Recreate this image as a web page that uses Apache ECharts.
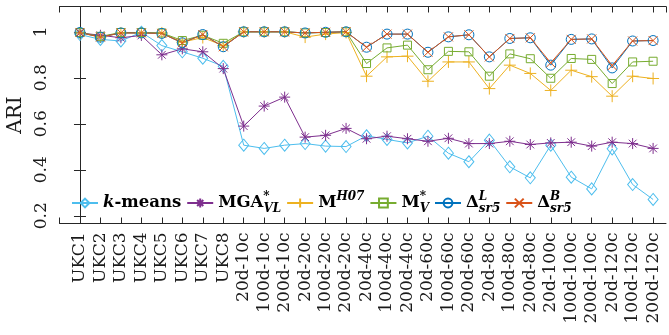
<!DOCTYPE html>
<html>
<head>
<meta charset="utf-8">
<script src="https://cdn.jsdelivr.net/npm/echarts@6/dist/echarts.min.js"></script>
<style>
html, body { margin: 0; padding: 0; background: #fff; }
#chart { width: 669px; height: 335px; }
</style>
</head>
<body>
<div id="chart"></div>
<script>
var myChart = echarts.init(document.getElementById('chart'));

var categories = ['UKC1', 'UKC2', 'UKC3', 'UKC4', 'UKC5', 'UKC6', 'UKC7', 'UKC8',
    '20d-10c', '100d-10c', '200d-10c', '20d-20c', '100d-20c', '200d-20c',
    '20d-40c', '100d-40c', '200d-40c', '20d-60c', '100d-60c', '200d-60c',
    '20d-80c', '100d-80c', '200d-80c', '20d-100c', '100d-100c', '200d-100c',
    '20d-120c', '100d-120c', '200d-120c'];

var kmeans = [0.988, 0.967, 0.96, 0.998, 0.94, 0.913, 0.885, 0.85, 0.507, 0.493, 0.507, 0.514, 0.503, 0.501,
    0.548, 0.532, 0.517, 0.546, 0.472, 0.435, 0.529, 0.413, 0.365, 0.507, 0.368, 0.317, 0.491, 0.336, 0.271];
var mga = [0.995, 0.985, 0.974, 0.984, 0.90, 0.926, 0.913, 0.84, 0.59, 0.677, 0.716, 0.542, 0.55, 0.58,
    0.535, 0.546, 0.535, 0.524, 0.537, 0.514, 0.514, 0.524, 0.51, 0.517, 0.52, 0.503, 0.52, 0.514, 0.493];
var mh07 = [0.995, 0.977, 0.995, 0.995, 0.995, 0.955, 0.975, 0.94, 1.0, 1.0, 1.0, 0.977, 0.99, 0.997,
    0.807, 0.891, 0.894, 0.785, 0.869, 0.869, 0.753, 0.855, 0.819, 0.745, 0.833, 0.805, 0.72, 0.807, 0.797];
var mv = [0.997, 0.98, 0.997, 0.997, 0.995, 0.962, 0.985, 0.95, 1.0, 1.0, 1.0, 0.995, 0.997, 1.0,
    0.862, 0.93, 0.942, 0.835, 0.915, 0.913, 0.807, 0.904, 0.883, 0.798, 0.884, 0.88, 0.775, 0.869, 0.872];
var deltaL = [0.997, 0.977, 0.995, 0.995, 0.993, 0.952, 0.988, 0.935, 1.0, 1.0, 1.0, 0.995, 0.998, 1.0,
    0.933, 0.99, 0.99, 0.911, 0.978, 0.987, 0.891, 0.971, 0.974, 0.855, 0.967, 0.969, 0.843, 0.96, 0.962];
var deltaB = [0.997, 0.977, 0.995, 0.995, 0.993, 0.952, 0.988, 0.935, 1.0, 1.0, 1.0, 0.995, 0.998, 1.0,
    0.933, 0.99, 0.99, 0.911, 0.978, 0.987, 0.891, 0.971, 0.974, 0.865, 0.967, 0.969, 0.853, 0.96, 0.962];

var yTicks = [0.2, 0.4, 0.6, 0.8, 1];

var serif = 'DejaVu Serif';
var plusPath = 'path://M5,0L5,10M0,5L10,5';
var crossPath = 'path://M0,0L10,10M0,10L10,0';
var starPath = 'path://M5,0L5,10M0,5L10,5M1.5,1.5L8.5,8.5M1.5,8.5L8.5,1.5';

function pts(arr) {
    return arr.map(function (v, i) { return [i, v]; });
}

function mkSeries(name, data, color, symbol, size) {
    return {
        name: name,
        type: 'line',
        data: pts(data),
        symbol: symbol,
        symbolSize: size,
        color: color,
        lineStyle: { color: color, width: 1 },
        itemStyle: { color: 'transparent', borderColor: color, borderWidth: 1 },
        emphasis: { disabled: true },
        animation: false
    };
}

var legendText = {
    'kmeans': '{bi|k}{b|-means}',
    'MGA': '{b|MGA}{sups|*}{sub|VL}',
    'MH07': '{b|M}{sup|H07}',
    'MV': '{b|M}{sups|*}{sub|V}',
    'DL': '{b|Δ}{sups|L}{sub|sr5}',
    'DB': '{b|Δ}{sups|B}{sub|sr5}'
};

option = {
    backgroundColor: '#fff',
    grid: { left: 59.5, right: 3, top: 6.5, bottom: 111.5, outerBoundsMode: 'none', containLabel: false },
    legend: {
        left: 71,
        top: 191,
        itemWidth: 26,
        itemHeight: 11,
        itemGap: 5,
        padding: 0,
        data: ['kmeans', 'MGA', 'MH07', 'MV', 'DL', 'DB'],
        formatter: function (name) { return legendText[name]; },
        textStyle: {
            fontFamily: serif,
            color: '#000',
            rich: {
                b: { fontFamily: serif, fontWeight: 'bold', fontSize: 16.5, lineHeight: 24, color: '#000' },
                bi: { fontFamily: serif, fontWeight: 'bold', fontStyle: 'italic', fontSize: 16.5, lineHeight: 24, color: '#000' },
                sup: { fontFamily: serif, fontWeight: 'bold', fontStyle: 'italic', fontSize: 12, lineHeight: 11, verticalAlign: 'top', color: '#000' },
                sups: { fontFamily: serif, fontWeight: 'bold', fontStyle: 'italic', fontSize: 12, lineHeight: 11, verticalAlign: 'top', width: 0.01, color: '#000' },
                sub: { fontFamily: serif, fontWeight: 'bold', fontStyle: 'italic', fontSize: 12, lineHeight: 11, verticalAlign: 'bottom', color: '#000' }
            }
        }
    },
    xAxis: [{
        type: 'value',
        min: -1,
        max: 28.63,
        interval: 1,
        axisLine: { lineStyle: { color: '#262626', width: 1 } },
        axisTick: { inside: true, length: 6, lineStyle: { color: '#262626' } },
        splitLine: { show: false },
        axisLabel: {
            rotate: 90,
            margin: 9,
            fontFamily: serif,
            fontSize: 17,
            color: '#1a1a1a',
            showMaxLabel: false,
            formatter: function (v) { return categories[v] || ''; }
        }
    }, {
        type: 'value',
        position: 'top',
        min: -1,
        max: 28.63,
        interval: 1,
        axisLine: { lineStyle: { color: '#262626', width: 1 } },
        axisTick: { inside: true, length: 6, lineStyle: { color: '#262626' } },
        splitLine: { show: false },
        axisLabel: { show: false }
    }],
    yAxis: [{
        type: 'value',
        min: 0.1665,
        max: 1.11,
        splitNumber: 5,
        name: 'ARI',
        nameLocation: 'middle',
        nameRotate: 90,
        nameGap: 31,
        nameTextStyle: { fontFamily: serif, fontSize: 20, color: '#1a1a1a' },
        axisLine: { show: true, lineStyle: { color: '#262626', width: 1 } },
        axisTick: { inside: true, length: 6, lineStyle: { color: '#262626' } },
        splitLine: { show: false },
        axisLabel: {
            rotate: 90,
            margin: 9,
            fontFamily: serif,
            fontSize: 17,
            color: '#1a1a1a',
            showMinLabel: false,
            showMaxLabel: false,
            formatter: function (v) {
                for (var i = 0; i < yTicks.length; i++) {
                    if (Math.abs(v - yTicks[i]) < 1e-6) return String(yTicks[i]);
                }
                return '';
            }
        }
    }, {
        type: 'value',
        position: 'right',
        min: 0.1665,
        max: 1.11,
        splitNumber: 5,
        axisLine: { show: true, lineStyle: { color: '#262626', width: 1 } },
        axisTick: { inside: true, length: 6, lineStyle: { color: '#262626' } },
        splitLine: { show: false },
        axisLabel: { show: false }
    }],
    series: [
        mkSeries('kmeans', kmeans, '#4DBEEE', 'diamond', [10, 12]),
        mkSeries('MGA', mga, '#7E2F8E', starPath, 11),
        mkSeries('MH07', mh07, '#EDB120', plusPath, 12),
        mkSeries('MV', mv, '#77AC30', 'rect', 8),
        mkSeries('DL', deltaL, '#0072BD', 'circle', 10),
        mkSeries('DB', deltaB, '#D95319', crossPath, 9)
    ]
};

myChart.setOption(option);
</script>
</body>
</html>
